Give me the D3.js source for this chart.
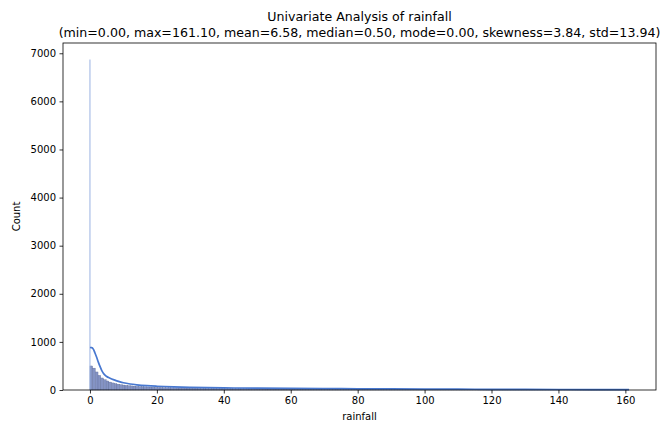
<!DOCTYPE html>
<html>
<head>
<meta charset="utf-8">
<script src="https://cdn.jsdelivr.net/npm/d3@7"></script>
<style>
    body { margin: 0; background: #fff; }
    svg { display: block; font-family: "DejaVu Sans", sans-serif; }
</style>
</head>
<body>
<div id="chart"></div>
<script>
// summary stats shown in the title
const statLabels = ['min', 'max', 'mean', 'median', 'mode', 'skewness', 'std'];
const statValues = [0.00, 161.10, 6.58, 0.50, 0.00, 3.84, 13.94];

// histogram: exact zeros get their own thin spike, the rest uses equal bins
const zeroCount = 6870;
const binWidth = 161.1 / 200;
const binCounts = [
    500, 455, 375, 305, 250, 215, 188, 165, 147, 133,
    121, 111, 103, 96, 90, 85, 80, 76, 72, 69,
    66, 63, 60, 58, 56, 54, 52, 50, 48, 47,
    45, 44, 43, 42, 41, 40, 39, 38, 37, 36,
    35, 34, 34, 33, 32, 32, 31, 30, 30, 29,
    29, 28, 28, 27, 27, 26, 26, 25, 25, 24,
    24, 23, 23, 23, 22, 22, 21, 21, 21, 20,
    20, 20, 19, 19, 19, 18, 18, 18, 17, 17,
    17, 16, 16, 16, 16, 15, 15, 15, 14, 14,
    14, 14, 13, 13, 13, 13, 12, 12, 12, 12,
    12, 11, 11, 11, 11, 10, 10, 10, 10, 10,
    9, 9, 9, 9, 9, 9, 8, 8, 8, 8,
    8, 8, 7, 7, 7, 7, 7, 7, 7, 6,
    6, 6, 6, 6, 6, 6, 5, 5, 5, 5,
    5, 5, 5, 5, 5, 5, 4, 4, 4, 4,
    4, 4, 4, 4, 4, 4, 4, 3, 3, 3,
    3, 3, 3, 3, 3, 3, 3, 3, 3, 3,
    3, 2, 2, 2, 2, 2, 2, 2, 2, 2,
    2, 2, 2, 2, 2, 2, 2, 2, 2, 2,
    2, 2, 1, 1, 1, 1, 1, 1, 1, 1
];

// kde curve (scaled to counts)
const kdeX = [0, 0.5, 1, 1.5, 2, 2.5, 3, 3.5, 4, 4.5, 5, 6, 7, 8, 9, 10, 12, 14, 17, 20,
    25, 30, 40, 50, 60, 70, 80, 90, 100, 110, 120, 130, 140, 150, 161.1];
const kdeY = [884, 880, 850, 770, 680, 580, 490, 410, 350, 310, 280, 245, 215, 190, 168, 150, 125, 108, 90, 78,
    64, 55, 44, 38, 33, 29, 25, 22, 19, 17, 14, 12, 10, 8, 6];

const xTicks = [0, 20, 40, 60, 80, 100, 120, 140, 160];
const yTicks = [0, 1000, 2000, 3000, 4000, 5000, 6000, 7000];

class HistChart {
    constructor(config) {
        this.config = {
            parentElement: config?.parentElement || 'body',
            width: config?.width || 662,
            height: config?.height || 421,
            margin: config?.margin || { top: 43, right: 6, bottom: 31, left: 63 }
        };
        this.prepareData();
        this.initViz();
    }

    prepareData() {
        this.bins = binCounts.map((c, i) => ({ x0: i * binWidth, x1: (i + 1) * binWidth, count: c }));
        this.kde = kdeX.map((x, i) => ({ x: x, y: kdeY[i] }));
    }

    initViz() {
        const that = this;
        const m = that.config.margin;
        that.boundedWidth = that.config.width - m.left - m.right;
        that.boundedHeight = that.config.height - m.top - m.bottom;

        that.svg = d3.select(that.config.parentElement)
            .append('svg')
            .attr('width', that.config.width)
            .attr('height', that.config.height);

        that.viz = that.svg.append('g')
            .attr('transform', `translate(${m.left}, ${m.top})`);

        // matplotlib style 5% padding on x, y starts at 0
        const xMax = 161.1;
        const pad = xMax * 0.05;
        that.xScale = d3.scaleLinear().domain([-pad, xMax + pad]).range([0, that.boundedWidth]);
        that.yScale = d3.scaleLinear().domain([0, zeroCount * 1.05]).range([that.boundedHeight, 0]);

        that.renderViz();
    }

    renderViz() {
        const that = this;
        const x = that.xScale, y = that.yScale;

        that.viz.selectAll('rect.bin')
            .data(that.bins)
            .join('rect')
            .attr('class', 'bin')
            .attr('x', d => x(d.x0))
            .attr('width', d => x(d.x1) - x(d.x0))
            .attr('y', d => y(d.count))
            .attr('height', d => y(0) - y(d.count))
            .attr('fill', '#8493c4')
            .attr('stroke', '#55638f')
            .attr('stroke-width', 0.3);

        // the zero spike
        that.viz.append('rect')
            .attr('x', x(0) - 0.5)
            .attr('width', 1)
            .attr('y', y(zeroCount))
            .attr('height', y(0) - y(zeroCount))
            .attr('fill', '#9bb2e2');

        const line = d3.line()
            .x(d => x(d.x))
            .y(d => y(d.y))
            .curve(d3.curveMonotoneX);

        that.viz.append('path')
            .datum(that.kde)
            .attr('d', line)
            .attr('fill', 'none')
            .attr('stroke', '#4878d0')
            .attr('stroke-width', 1.7);

        // axes
        const xAxis = d3.axisBottom(x).tickValues(xTicks).tickSize(3.5).tickPadding(3.5).tickFormat(d3.format('d'));
        const yAxis = d3.axisLeft(y).tickValues(yTicks).tickSize(3.5).tickPadding(3.5).tickFormat(d3.format('d'));

        that.viz.append('g')
            .attr('transform', `translate(0,${that.boundedHeight})`)
            .call(xAxis)
            .call(g => g.select('.domain').remove());
        that.viz.append('g')
            .call(yAxis)
            .call(g => g.select('.domain').remove());

        that.viz.selectAll('.tick text').attr('font-size', 10).attr('font-family', 'DejaVu Sans').attr('fill', '#000');
        that.viz.selectAll('.tick line').attr('stroke', '#000').attr('stroke-width', 0.8);

        // frame
        that.viz.append('rect')
            .attr('width', that.boundedWidth)
            .attr('height', that.boundedHeight)
            .attr('fill', 'none')
            .attr('stroke', '#000')
            .attr('stroke-width', 0.8);

        // labels
        that.viz.append('text')
            .attr('x', that.boundedWidth / 2)
            .attr('y', that.boundedHeight + 30)
            .attr('text-anchor', 'middle')
            .attr('font-size', 10)
            .text('rainfall');

        that.viz.append('text')
            .attr('transform', `translate(-43, ${that.boundedHeight / 2}) rotate(-90)`)
            .attr('text-anchor', 'middle')
            .attr('font-size', 10)
            .text('Count');

        const statText = statLabels.map((l, i) => `${l}=${statValues[i].toFixed(2)}`).join(', ');
        that.viz.append('text')
            .attr('x', that.boundedWidth / 2)
            .attr('y', -22)
            .attr('text-anchor', 'middle')
            .attr('font-size', 12.6)
            .text('Univariate Analysis of rainfall');
        that.viz.append('text')
            .attr('x', that.boundedWidth / 2)
            .attr('y', -6)
            .attr('text-anchor', 'middle')
            .attr('font-size', 12.6)
            .text(`(${statText})`);
    }
}

new HistChart({ parentElement: '#chart' });
</script>
</body>
</html>
